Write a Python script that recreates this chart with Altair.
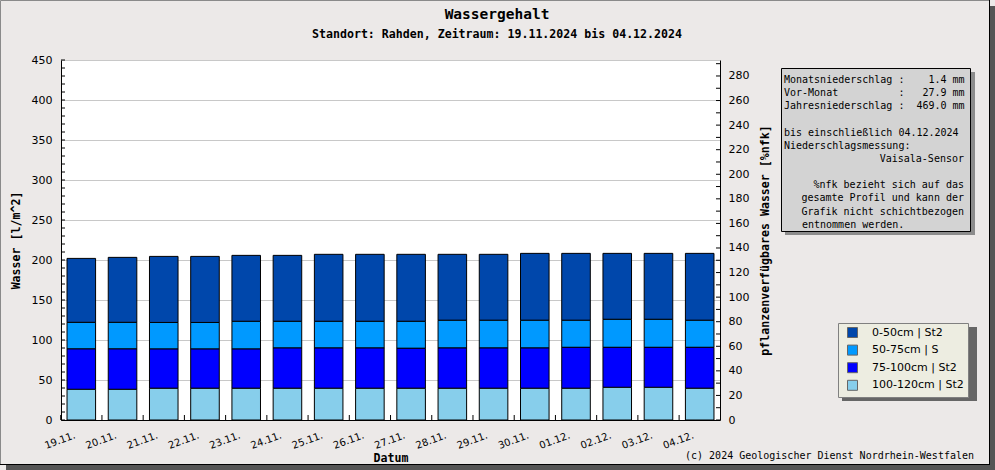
import altair as alt
import pandas as pd

# ---------------- data ----------------
dates = ["19.11.", "20.11.", "21.11.", "22.11.", "23.11.", "24.11.", "25.11.", "26.11.",
         "27.11.", "28.11.", "29.11.", "30.11.", "01.12.", "02.12.", "03.12.", "04.12."]
layer_names = ["0-50cm | St2", "50-75cm | S", "75-100cm | St2", "100-120cm | St2"]
layer_colors = ["#0047AB", "#0099FF", "#0000FF", "#87CEEB"]
v_0_50 = [80.0, 81.3, 82.6, 82.6, 82.5, 82.5, 83.8, 83.8, 83.8, 82.5, 82.5, 83.7, 83.7, 82.5, 82.5, 83.7]
v_50_75 = [33.2, 33.2, 33.2, 33.2, 34.6, 33.3, 33.3, 33.3, 33.7, 34.6, 34.6, 34.6, 33.8, 35.0, 35.0, 33.8]
v_75_100 = [50.5, 50.5, 49.1, 49.1, 49.1, 50.4, 50.4, 50.4, 50.0, 50.4, 50.4, 50.4, 51.2, 50.0, 50.0, 51.2]
v_100_120 = [38.3, 38.3, 39.6, 39.6, 39.6, 39.6, 39.6, 39.6, 39.6, 39.6, 39.6, 39.6, 39.6, 40.8, 40.8, 39.6]

left_domain = [0, 450]
left_labels = list(range(0, 451, 50))
left_ticks = list(range(0, 451, 10))
right_domain = [0, 293]
right_labels = list(range(0, 281, 20))
right_ticks = list(range(0, 291, 10))

title_text = "Wassergehalt"
subtitle_text = "Standort: Rahden, Zeitraum: 19.11.2024 bis 04.12.2024"
y_title = "Wasser [l/m^2]"
y2_title = "pflanzenverfügbares Wasser [%nfk]"
x_title = "Datum"
copyright_text = "(c) 2024 Geologischer Dienst Nordrhein-Westfalen"
# (text, alignment) of the info box lines; None = empty line
info_lines = [
    ("Monatsniederschlag :    1.4 mm", "left"),
    ("Vor-Monat          :   27.9 mm", "left"),
    ("Jahresniederschlag :  469.0 mm", "left"),
    None,
    ("bis einschließlich 04.12.2024", "left"),
    ("Niederschlagsmessung:", "left"),
    ("Vaisala-Sensor", "right"),
    None,
    ("%nfk bezieht sich auf das", "right"),
    ("gesamte Profil und kann der", "right"),
    ("Grafik nicht schichtbezogen", "right"),
    ("entnommen werden.", "indent"),
]

# ---------------- layout ----------------
W, H = 659, 360
OX, OY = 61, 60
BG = "#ECE9E8"
MONO = "DejaVu Sans Mono"
SANS = "DejaVu Sans"

rows = []
series = [v_0_50, v_50_75, v_75_100, v_100_120]
for i, d in enumerate(dates):
    for j, (name, vals) in enumerate(zip(layer_names, series)):
        rows.append({"Datum": d, "Schicht": name, "Wasser": vals[i], "ord": 3 - j})
df = pd.DataFrame(rows)
one = pd.DataFrame({"k": [0]})

xscale = alt.Scale(paddingInner=0.307, paddingOuter=0.146)
xaxis = alt.Axis(
    title=x_title, titleFont=MONO, titleFontWeight="bold", titleFontSize=11.6,
    titleY=41, titleBaseline="alphabetic",
    labelAngle=340, labelAlign="right", labelBaseline="top", labelFont=SANS, labelFontSize=10,
    labelPadding=10, labelOffset=-8, ticks=False, domainColor="black", grid=False,
)


def rect(x, x2, y, y2, **kw):
    return alt.Chart(one).mark_rect(**kw).encode(
        x=alt.value(x - OX), x2=alt.value(x2 - OX), y=alt.value(y - OY), y2=alt.value(y2 - OY)
    )


def rule(x, x2, y, y2, **kw):
    return alt.Chart(one).mark_rule(**kw).encode(
        x=alt.value(x - OX), x2=alt.value(x2 - OX), y=alt.value(y - OY), y2=alt.value(y2 - OY)
    )


def text(s, x, y, **kw):
    return alt.Chart(one).mark_text(color="black", baseline="alphabetic", **kw).encode(
        x=alt.value(x - OX), y=alt.value(y - OY), text=alt.value(s)
    )


# frame with shadow
deco = [
    rect(990, 995, 6, 470, fill="#555555"),
    rect(6, 995, 465, 470, fill="#555555"),
    rect(0.5, 989.5, 0.5, 464.5, fillOpacity=0, stroke="#8a8a8a", strokeWidth=1),
    rule(989.5, 989.5, 0, 465, color="black", strokeWidth=1),
    rule(0, 990, 464.5, 464.5, color="black", strokeWidth=1),
    # info box
    rect(785, 975, 72, 235, fill="#8c8c8c"),
    rect(781.5, 970.5, 68.5, 231.5, fill="#D3D3D3", stroke="black", strokeWidth=1),
    # legend shadow
    rect(842, 977, 327, 401, fill="#666666"),
    # titles and footer
    text(title_text, 497, 19, align="center", font=MONO, fontSize=14.5, fontWeight="bold"),
    text(subtitle_text, 497, 38, align="center", font=MONO, fontSize=11.6, fontWeight="bold"),
    text(copyright_text, 974, 459, align="right", font=MONO, fontSize=10),
]
for i, item in enumerate(info_lines):
    if item is None:
        continue
    s, how = item
    s = s.replace(" ", "\u00a0")
    y = 83 + 13.15 * i
    if how == "left":
        deco.append(text(s, 784, y, align="left", font=MONO, fontSize=10))
    elif how == "indent":
        deco.append(text(s, 802, y, align="left", font=MONO, fontSize=10))
    else:
        deco.append(text(s, 964, y, align="right", font=MONO, fontSize=10))

bars = alt.Chart(df).mark_bar(stroke="black", strokeWidth=1).encode(
    x=alt.X("Datum:N", sort=dates, scale=xscale, axis=xaxis),
    y=alt.Y(
        "Wasser:Q", stack="zero", scale=alt.Scale(domain=left_domain, nice=False),
        axis=alt.Axis(
            orient="left", values=left_labels, title=y_title, titleFont=MONO, titleFontWeight="bold",
            titleFontSize=11.6, titlePadding=10, labelFont=SANS, labelFontSize=11, labelPadding=9,
            ticks=False, domainColor="black", grid=True, gridColor="#C8C8C8",
        ),
    ),
    color=alt.Color(
        "Schicht:N", scale=alt.Scale(domain=layer_names, range=layer_colors),
        legend=alt.Legend(
            orient="none", legendX=838 - OX, legendY=323 - OY, title=None, fillColor="#EDEDE1",
            strokeColor="#808080", padding=4, symbolType="square", symbolSize=100,
            symbolStrokeColor="#666666", symbolStrokeWidth=1, symbolOffset=5,
            labelFont=SANS, labelFontSize=11, labelOffset=14, rowPadding=2.6, labelColor="black",
        ),
    ),
    order=alt.Order("ord:Q", sort="ascending"),
)

left_tick_layer = alt.Chart(pd.DataFrame({"t": left_ticks})).mark_rule(color="black").encode(
    y=alt.Y("t:Q", scale=alt.Scale(domain=left_domain, nice=False), axis=None),
    x=alt.value(0), x2=alt.value(4),
)

right_layer = alt.Chart(pd.DataFrame({"nfk": right_ticks})).mark_rule(color="black").encode(
    y=alt.Y(
        "nfk:Q", scale=alt.Scale(domain=right_domain, nice=False),
        axis=alt.Axis(
            orient="right", values=right_labels, title=y2_title, titleAngle=270, titleFont=MONO,
            titleFontWeight="bold", titleFontSize=11.6, titlePadding=22, labelFont=SANS,
            labelFontSize=11, labelPadding=8, ticks=False, domainColor="black", grid=False,
        ),
    ),
    x=alt.value(W - 4), x2=alt.value(W),
)

x_tick_layer = alt.Chart(pd.DataFrame({"Datum": dates})).mark_rule(color="black", xOffset=-6.3).encode(
    x=alt.X("Datum:N", sort=dates, scale=xscale, axis=xaxis, bandPosition=0),
    y=alt.value(H - 5), y2=alt.value(H),
)

chart = alt.layer(
    *deco, bars, left_tick_layer, right_layer, x_tick_layer,
).resolve_scale(y="independent").properties(
    width=W, height=H,
    padding={"left": OX, "top": OY, "right": 995 - OX - W, "bottom": 470 - OY - H},
    autosize=alt.AutoSizeParams(type="none"),
    background=BG,
).configure_view(fill="white", strokeOpacity=0).configure_axis(
    labelColor="black", titleColor="black"
)

chart.save("out.html", embed_options={"renderer": "svg", "actions": False})
